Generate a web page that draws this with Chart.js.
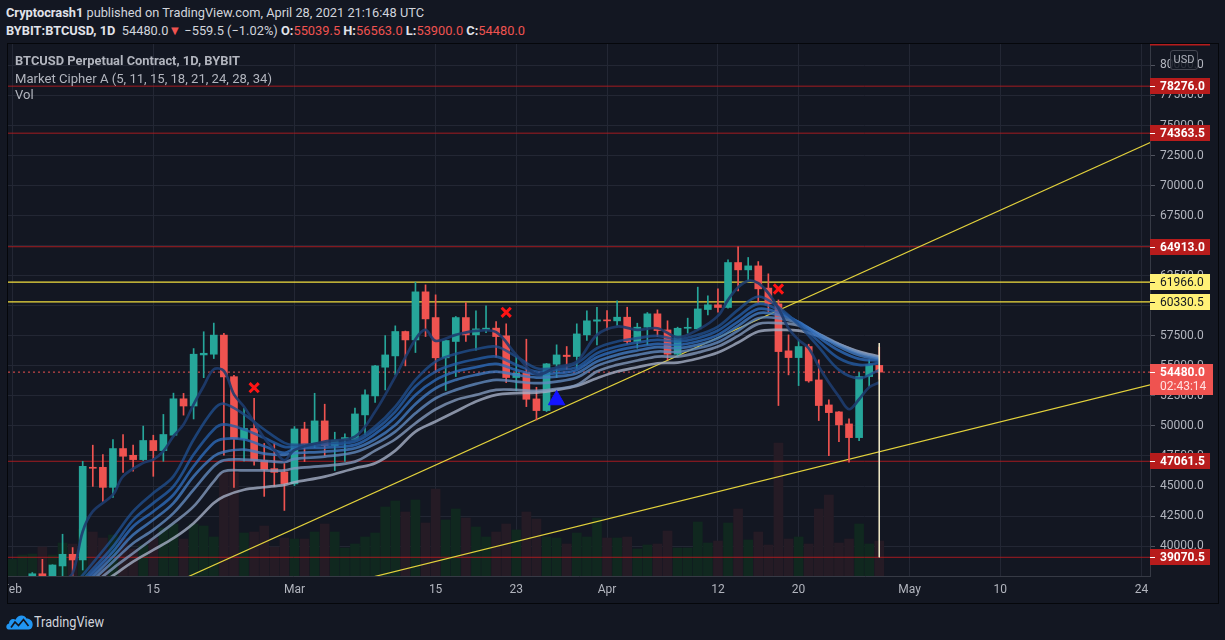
<!DOCTYPE html>
<html><head><meta charset="utf-8">
<script src="https://cdn.jsdelivr.net/npm/chart.js@4.4.1/dist/chart.umd.min.js"></script>
<style>
html,body{margin:0;padding:0;background:#131722;width:1225px;height:640px;overflow:hidden;font-family:Roboto,"Open Sans",sans-serif;}
.t{position:absolute;white-space:nowrap;transform-origin:0 50%;line-height:16px;}
#h1,#h2{left:6px;color:#d1d4dc;font-size:13px;}
#h1{top:5px;} #h2{top:23px;}
.b{font-weight:bold;color:#e1e3ea}
.r{color:#ef5350}
#frame{position:absolute;left:7px;top:43px;width:1210px;height:559px;border:1px solid #05070b;}
#wrap{position:absolute;left:8px;top:44px;width:1210px;height:559px;}
.lg{left:15px;color:#b2b5be;font-size:13px;}
#lg1{top:53px;font-weight:bold;} #lg2{top:71px;} #lg3{top:87px;}
#usd{position:absolute;left:1170px;top:50px;width:26px;height:18px;border:1px solid #434651;border-radius:3px;background:rgba(19,23,34,0.85);color:#b2b5be;font-size:11px;line-height:18px;text-align:center;}
#tvt{left:34px;top:614px;color:#d1d4dc;font-size:14px;}
#logo{position:absolute;left:6px;top:613px;}
</style>
</head><body>
<div id="h1" class="t"><span class="b">Cryptocrash1</span> published on TradingView.com, April 28, 2021 21:16:48 UTC</div>
<div id="h2" class="t"><span class="b">BYBIT:BTCUSD, 1D</span>&nbsp; 54480.0<span class="r">▼</span> −559.5 (−1.02%) <span class="b">O:</span><span class="r">55039.5</span> <span class="b">H:</span><span class="r">56563.0</span> <span class="b">L:</span><span class="r">53900.0</span> <span class="b">C:</span><span class="r">54480.0</span></div>
<div id="frame"></div>
<div id="wrap"><canvas id="c"></canvas></div>
<div id="lg1" class="t lg">BTCUSD Perpetual Contract, 1D, BYBIT</div>
<div id="lg2" class="t lg">Market Cipher A (5, 11, 15, 18, 21, 24, 28, 34)</div>
<div id="lg3" class="t lg">Vol</div>
<div id="usd">USD</div>
<svg id="logo" width="27" height="17" viewBox="0 0 27 17"><path d="M2.5 16.5 C-0.5 16.5 -0.5 11 3 10.5 C3 6.5 7 5 9.5 6.8 C11.5 1.5 18.5 1 20.5 5.5 C24.5 5.5 27.5 9 26.5 13 C26 15.5 24.5 16.5 22.5 16.5 Z" fill="#2196f3"/><path d="M5 14.5 L9 9 L12.5 12.5 L17.5 6.5 L22.5 13" stroke="#131722" stroke-width="1.7" fill="none"/></svg>
<div id="tvt" class="t">TradingView</div>
<script>
// ---- data (day 0 = Feb 1, 2021) ----
const opens = [33100,33500,35500,37700,36900,38350,39320,38850,46560,46560,44890,48120,47560,47200,48790,47950,49230,52260,51660,55910,55970,57560,54100,48930,49790,47120,46450,46170,
 45180,49750,48480,50420,48370,48890,48840,50920,52500,54890,55830,57860,57160,61160,59020,55670,57030,59020,57580,58020,58140,57500,54030,54390,52250,51280,55140,55890,55780,57580,58720,
 58800,58745,59050,57025,58220,59330,57990,55970,58130,58080,59690,60080,59860,63600,62990,63320,61470,60160,56250,55690,56610,53830,51750,51170,50170,49030,54110,55039.5];
const highs = [34700,35900,37800,38900,38450,40990,39880,47060,48400,47620,48870,49290,48400,49990,49230,50960,52730,52710,56440,57840,58560,57700,54220,51460,52300,48540,48540,46870,
 49950,50310,52720,51810,49480,49340,51480,53000,55050,57520,58330,57900,61970,61740,60910,57150,59110,60270,59580,59990,58690,58500,55830,57220,53220,55200,56750,56610,58500,59580,59880,
 59600,60410,59880,58550,59440,59660,58750,58220,58970,61550,60830,61410,63820,64913,64020,63680,62660,60490,57580,57160,56800,55500,52170,51200,50590,54440,55500,56563];
const lows = [32300,33400,35300,36200,36600,37400,37400,38010,44970,43720,44050,46140,46230,47120,45810,47060,49150,50900,50580,54020,55610,47560,44890,47060,46730,44140,44970,42970,
 45040,47040,48200,47530,46290,47040,48840,49250,51950,53000,54250,55000,56110,57440,54440,52950,54110,57030,56300,57770,55720,53610,52920,51610,50500,51200,54030,54720,54800,57110,56750,
 58000,58360,56830,56470,56750,57440,55500,55780,57720,58000,59240,59470,59800,61240,62020,60220,59520,51700,54250,53360,53640,50450,47530,48700,46980,48780,53280,53900];
const closes = [33500,35500,37700,36900,38430,39320,38850,46640,46480,44890,48120,47480,47200,48790,47950,49290,52260,51660,55970,56050,57560,54080,48930,49790,47120,46370,46140,45200,
 49750,48480,50420,48370,48810,49030,51000,52590,55000,55910,57860,57160,61160,58910,55670,57110,59020,57580,58080,58140,57440,54030,54390,52220,51280,55170,55910,55780,57660,58750,58830,
 58745,59050,57025,58220,59330,57940,55970,58130,58160,59740,60080,59860,63600,62990,63320,61410,60160,56190,55690,56610,53750,51700,51110,50090,49030,54110,55080,54480];
const volumes = [167,210,220,290,210,330,320,470,440,380,410,380,270,310,380,480,520,370,520,500,390,1040,1030,430,440,500,290,380,
 370,370,440,520,440,280,320,390,430,690,750,640,760,530,870,560,670,580,490,390,440,520,460,640,570,390,380,320,430,390,580,
 380,380,390,270,310,320,450,280,280,540,330,350,530,670,360,440,310,1330,370,390,320,670,810,330,370,520,320,350];

const fastDays = [4,5,6,7,8,10,11,13,14,15,16,17,18,19,20,21,22,23,24,25,26,27,28,31,34,36,38,40,41,42,44,46,48,50,52,54,56,58,60,62,64,66,68,70,71,72,73,74,75,76,77,78,79,80,81,82,83,84,85,86];
const ema5 = [36343,37039,37735,41215,42886,44278,45810,46923,47201,47897,49150,50124,51795,53326,54718,54579,52630,51600,50300,49000,48000,47150,
 48000,48700,49116,51197,54111,57219,57996,57080,57580,57913,57802,55915,54300,54888,55360,
 57580,58273,57996,58134,57385,57996,59161,60493,61547,62075,61881,61048,59799,58134,57163,56469,54943,53611,52446,51392,52224,53223,53611];
const ribbonDays = [4,7,10,12,14,16,18,20,21,23,25,27,28,31,34,36,38,40,42,44,46,48,50,52,54,56,58,60,62,64,66,68,70,72,74,76,78,80,82,84,86];
const ema11 = [34672,37596,40658,42886,44417,45809,48871,51377,51850,50959,49706,48593,48422,48561,48838,49948,51613,53834,55360,55998,56387,56609,55776,54804,54804,55221,56470,57025,57302,57497,57219,57580,58273,59661,60771,59883,58412,56553,54666,53972,54666];
const ema15 = [34255,37178,39962,42189,43581,44973,47618,49706,50124,49706,49010,48259,48283,48422,48700,49671,51197,53279,54527,55166,55554,55776,55082,54527,54666,54888,56053,56608,56941,57163,57025,57302,57940,59106,60161,59661,58551,57025,55637,55082,55221];
const ema18 = [33977,36900,39545,41632,42886,44277,46644,48593,48927,48871,48314,47757,48089,48200,48422,49338,50725,52585,53834,54527,54888,55166,54666,54305,54388,54666,55721,56276,56608,56830,56747,57025,57580,58690,59744,59439,58634,57385,56276,55582,55443];
const ema21 = [33837,36621,39127,40937,42190,43581,45809,47479,47841,48036,47700,47600,47728,47867,48144,48894,50087,51835,53140,53834,54250,54527,54250,54028,54111,54388,55360,55915,56276,56553,56470,56747,57302,58329,59383,59245,58662,57607,56608,55887,55554];
const ema24 = [33698,36343,38709,40240,41354,42746,44695,46644,47145,47201,47100,47000,47257,47451,47812,48506,49532,51058,52307,53001,53500,53834,53695,53556,53695,54028,54999,55554,55915,56192,56164,56470,56969,57940,58967,58967,58551,57663,56747,56053,55637];
const ema28 = [33559,36064,38153,39405,40658,41911,43303,45391,46226,46300,46300,46300,46480,46674,47035,47951,48894,50226,51391,52168,52585,53001,53001,52918,53085,53418,54527,55082,55443,55776,55776,56109,56608,57497,58496,58551,58357,57663,56830,56137,55721];
const ema34 = [33281,35786,37540,38709,39684,40658,41911,43581,44138,44695,44900,45100,45314,45786,46480,46896,47951,49532,50365,51197,52029,52585,52724,52779,53001,53334,53972,54527,54888,55221,55277,55610,56109,56941,57857,57996,57940,57497,56803,56192,55776];

const xTickDays = [0,14,28,42,50,59,70,78,89,98,112];
const xTickLabels = ['Feb','15','Mar','15','23','Apr','12','20','May','10','24'];
const yTicks = [40000,42500,45000,47500,50000,52500,55000,57500,60000,62500,65000,67500,70000,72500,75000,77500,80000];
const redLevels = [78276, 74363.5, 64913, 47061.5, 39070.5];
const yellowLevels = [61966, 60330.5];
const lastPrice = 54480;
const countdown = '02:43:14';
const trend1Days = [17,113], trend1Prices = [37281,73638];
const trend2Days = [35,113], trend2Prices = [37273,53458];
const sellDays = [24,49,76], sellPrices = [53184,59459,61397];
const buyDays = [54], buyPrices = [52160];
const vlineDays = [86,86], vlinePrices = [56900,39070.5];

// ---- view ----
const X_MIN = -0.41, X_MAX = 112.85, Y_MIN = 37514, Y_MAX = 81785;
const FONT = 'Roboto, "Open Sans", sans-serif';
const UP = '#26a69a', DN = '#ef5350';
const days = opens.map((_, i) => i);
const isUp = closes.map((c, i) => c >= opens[i]);
const pts = (xs, ys) => xs.map((x, i) => ({x, y: ys[i]}));
const hline = v => [{x: X_MIN, y: v}, {x: X_MAX, y: v}];

const ribbon = [ema11, ema15, ema18, ema21, ema24, ema28, ema34];
const ribbonColors = ['rgba(31,78,140,0.8)','rgba(36,92,165,0.8)','rgba(45,106,185,0.8)','rgba(66,122,192,0.8)','rgba(98,138,190,0.8)','rgba(130,152,188,0.8)','rgba(165,175,198,0.8)'];

const datasets = [];
datasets.push({type:'bar', yAxisID:'yVol', data: days.map(d => ({x: d, y: volumes[d]})),
  backgroundColor: isUp.map(u => u ? '#10281f' : '#251b25'), barThickness: 9, grouped: false, order: 40});
redLevels.forEach(v => datasets.push({type:'line', data: hline(v), borderColor:'rgba(178,28,32,0.9)', borderWidth:1, pointRadius:0, order: 30}));
yellowLevels.forEach(v => datasets.push({type:'line', data: hline(v), borderColor:'#f3df3e', borderWidth:1.2, pointRadius:0, order: 30}));
datasets.push({type:'line', data: hline(lastPrice), borderColor:'#ef5350', borderWidth:1, borderDash:[2,3], pointRadius:0, order: 29});
datasets.push({type:'line', data: pts(trend1Days, trend1Prices), borderColor:'#e3d23c', borderWidth:1.2, pointRadius:0, order: 28});
datasets.push({type:'line', data: pts(trend2Days, trend2Prices), borderColor:'#e3d23c', borderWidth:1.2, pointRadius:0, order: 28});
datasets.push({type:'bar', data: days.map(d => ({x: d, y: [lows[d], highs[d]]})),
  backgroundColor: isUp.map(u => u ? UP : DN), barThickness: 1, grouped: false, order: 21});
datasets.push({type:'bar', data: days.map(d => ({x: d, y: [opens[d], closes[d]]})),
  backgroundColor: isUp.map(u => u ? UP : DN), barThickness: 7, minBarLength: 1, grouped: false, order: 20});
for (let i = ribbon.length - 1; i >= 0; i--) {
  datasets.push({type:'line', data: pts(ribbonDays, ribbon[i]), borderColor: ribbonColors[i], borderWidth: 2.7, pointRadius: 0, tension: 0.35, order: 10 + i});
}
datasets.push({type:'line', data: pts(fastDays, ema5), borderColor:'rgba(30,60,110,0.9)', borderWidth:2.7, pointRadius:0, tension:0.35, order: 9});
datasets.push({type:'line', data: pts(vlineDays, vlinePrices), borderColor:'#efe9c8', borderWidth:1, pointRadius:0, order: 2});
datasets.push({type:'line', data: pts(sellDays, sellPrices), showLine:false, pointStyle:'crossRot', pointRadius:6.5, borderColor:'#ff1414', borderWidth:3, order: 1});
datasets.push({type:'line', data: pts(buyDays, buyPrices), showLine:false, pointStyle:'triangle', pointRadius:9.5, backgroundColor:'#1414ff', borderColor:'#1414ff', borderWidth:1, order: 1});

const labelPlugin = {
  id: 'priceLabels',
  afterDraw(chart) {
    const {ctx, chartArea: a, scales: {y}} = chart;
    const x0 = a.right;
    ctx.save();
    ctx.fillStyle = '#b71c1c'; ctx.fillRect(x0, a.top, 60, 1.5);
    ctx.textBaseline = 'middle'; ctx.textAlign = 'left';
    const box = (v, bg, fg, bold) => {
      const py = Math.round(y.getPixelForValue(v));
      ctx.fillStyle = bg; ctx.fillRect(x0, py - 8, 60, 16);
      ctx.fillStyle = fg; ctx.fillRect(x0, py, 5, 1);
      ctx.font = (bold ? 'bold ' : '') + '12px ' + FONT;
      ctx.fillText(v.toFixed(1), x0 + 10, py + 0.5);
    };
    redLevels.forEach(v => box(v, '#b71c1c', '#ffffff', true));
    yellowLevels.forEach(v => box(v, '#fff176', '#131722', false));
    const py = Math.round(y.getPixelForValue(lastPrice));
    ctx.fillStyle = '#ef5350'; ctx.fillRect(x0, py - 8, 63, 31);
    ctx.fillStyle = '#ffffff'; ctx.fillRect(x0, py, 5, 1);
    ctx.font = 'bold 12px ' + FONT; ctx.fillText(lastPrice.toFixed(1), x0 + 10, py + 0.5);
    ctx.font = '12px ' + FONT; ctx.fillStyle = '#ffe1e1'; ctx.fillText(countdown, x0 + 10, py + 14.5);
    ctx.restore();
  }
};

Chart.defaults.font.family = FONT;
new Chart(document.getElementById('c'), {
  type: 'bar',
  data: {datasets},
  plugins: [labelPlugin],
  options: {
    responsive: true, maintainAspectRatio: false, animation: false, events: [],
    layout: {padding: 0, autoPadding: false},
    plugins: {legend: {display: false}, tooltip: {enabled: false}},
    scales: {
      x: {type: 'linear', min: X_MIN, max: X_MAX, offset: false,
        grid: {offset: false, color: '#232734', drawTicks: false},
        border: {color: '#363a45'},
        ticks: {color: '#b2b5be', font: {size: 12}, padding: 7, autoSkip: false, maxRotation: 0,
          callback: v => { const i = xTickDays.indexOf(v); return i >= 0 ? xTickLabels[i] : ''; }},
        afterBuildTicks: s => { s.ticks = xTickDays.map(v => ({value: v})); },
        afterFit: s => { s.height = 27; s.paddingLeft = 0; s.paddingRight = 0; }
      },
      y: {type: 'linear', position: 'right', min: Y_MIN, max: Y_MAX,
        grid: {color: '#232734', tickLength: 5, tickColor: '#50535e'},
        border: {color: '#363a45'},
        ticks: {color: '#b2b5be', font: {size: 12}, padding: 5, callback: v => Number(v).toFixed(1)},
        afterBuildTicks: s => { s.ticks = yTicks.map(v => ({value: v})); },
        afterFit: s => { s.width = 68; s.paddingTop = 0; s.paddingBottom = 0; }
      },
      yVol: {type: 'linear', display: false, min: 0, max: 5320, grid: {display: false}}
    }
  }
});

function fitW(id, w) {
  const el = document.getElementById(id);
  const r = el.getBoundingClientRect().width;
  if (r > 0) el.style.transform = 'scaleX(' + (w / r) + ')';
}
fitW('h1', 418); fitW('h2', 519); fitW('lg1', 225); fitW('lg2', 257); fitW('tvt', 70);
</script>
</body></html>
